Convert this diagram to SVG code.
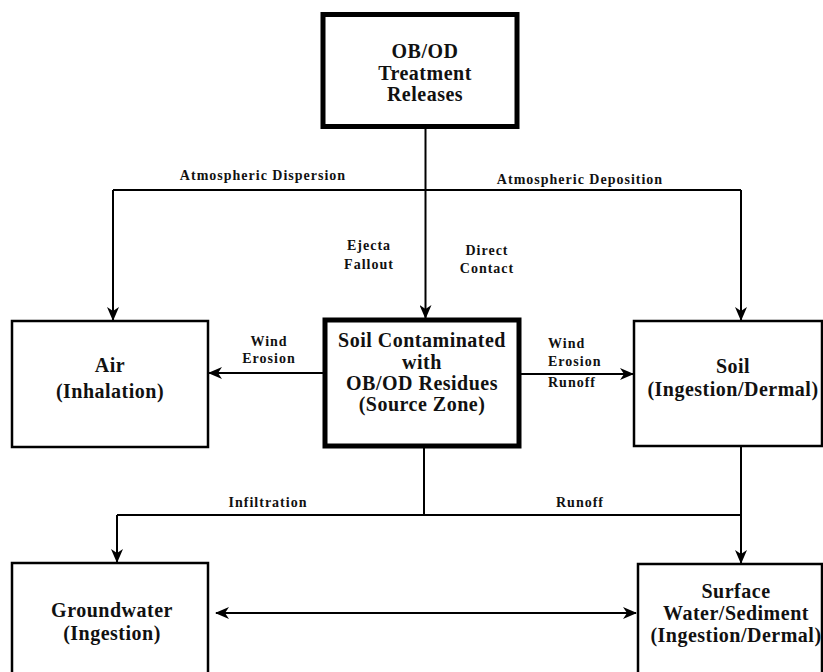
<svg xmlns="http://www.w3.org/2000/svg" width="823" height="672" viewBox="0 0 823 672">
<style>
  .box{fill:#fff;stroke:#000;stroke-width:2.5}
  .thick{fill:#fff;stroke:#000;stroke-width:5}
  text{font-family:'Liberation Serif','DejaVu Serif',serif;font-weight:bold;fill:#111}
  .t{font-size:20px;letter-spacing:0.5px;text-anchor:middle}
  .l{font-size:14px;letter-spacing:1px;text-anchor:middle}
  .s{font-size:14px;letter-spacing:1px;text-anchor:start}
  .c{fill:none;stroke:#000;stroke-width:2}
</style>
<defs>
  <marker id="ah" viewBox="0 0 14 12" refX="13" refY="6" markerWidth="14" markerHeight="12" markerUnits="userSpaceOnUse" orient="auto-start-reverse">
    <path d="M0,0 L14,6 L0,12 L4,6 z" fill="#000"/>
  </marker>
</defs>
<rect width="823" height="672" fill="#fff"/>
<g id="connectors">
  <path class="c" d="M425.5,129 V318" stroke-width="2.5" marker-end="url(#ah)"/>
  <path class="c" d="M113,190 H741"/>
  <path class="c" d="M113,190 V320" marker-end="url(#ah)"/>
  <path class="c" d="M741,190 V320" marker-end="url(#ah)"/>
  <path class="c" d="M323,373 H209" marker-end="url(#ah)"/>
  <path class="c" d="M521,374 H633" marker-end="url(#ah)"/>
  <path class="c" d="M424,448 V515"/>
  <path class="c" d="M117,515 H741"/>
  <path class="c" d="M117,515 V562" marker-end="url(#ah)"/>
  <path class="c" d="M741,446 V563" marker-end="url(#ah)"/>
  <path class="c" d="M216,613 H636" marker-start="url(#ah)" marker-end="url(#ah)"/>
  <text class="l" x="263" y="180">Atmospheric Dispersion</text>
  <text class="l" x="580" y="184">Atmospheric Deposition</text>
  <text class="l" x="369" y="250">Ejecta</text>
  <text class="l" x="369" y="269">Fallout</text>
  <text class="l" x="487" y="255">Direct</text>
  <text class="l" x="487" y="273">Contact</text>
  <text class="l" x="269" y="346">Wind</text>
  <text class="l" x="269" y="363">Erosion</text>
  <text class="s" x="548" y="348">Wind</text>
  <text class="s" x="548" y="366">Erosion</text>
  <text class="s" x="548" y="387">Runoff</text>
  <text class="l" x="268" y="507">Infiltration</text>
  <text class="l" x="580" y="507">Runoff</text>
</g>
<g id="releases">
  <rect class="thick" x="323" y="14.5" width="194" height="112"/>
  <text class="t" x="425" y="58">OB/OD</text>
  <text class="t" x="425" y="80">Treatment</text>
  <text class="t" x="425" y="101">Releases</text>
</g>
<g id="air">
  <rect class="box" x="12" y="321" width="196" height="126"/>
  <text class="t" x="110" y="372">Air</text>
  <text class="t" x="110" y="398">(Inhalation)</text>
</g>
<g id="source">
  <rect class="thick" x="325" y="320" width="194" height="126"/>
  <text class="t" x="422" y="347">Soil Contaminated</text>
  <text class="t" x="422" y="369">with</text>
  <text class="t" x="422" y="390">OB/OD Residues</text>
  <text class="t" x="422" y="411">(Source Zone)</text>
</g>
<g id="soil">
  <rect class="box" x="634" y="321" width="188" height="125"/>
  <text class="t" x="733" y="373">Soil</text>
  <text class="t" x="733" y="396">(Ingestion/Dermal)</text>
</g>
<g id="groundwater">
  <rect class="box" x="12" y="563" width="196" height="120"/>
  <text class="t" x="112" y="617">Groundwater</text>
  <text class="t" x="112" y="640">(Ingestion)</text>
</g>
<g id="surface">
  <rect class="box" x="638" y="564" width="184" height="120"/>
  <text class="t" x="736" y="598">Surface</text>
  <text class="t" x="736" y="620">Water/Sediment</text>
  <text class="t" x="736" y="642">(Ingestion/Dermal)</text>
</g>
</svg>
